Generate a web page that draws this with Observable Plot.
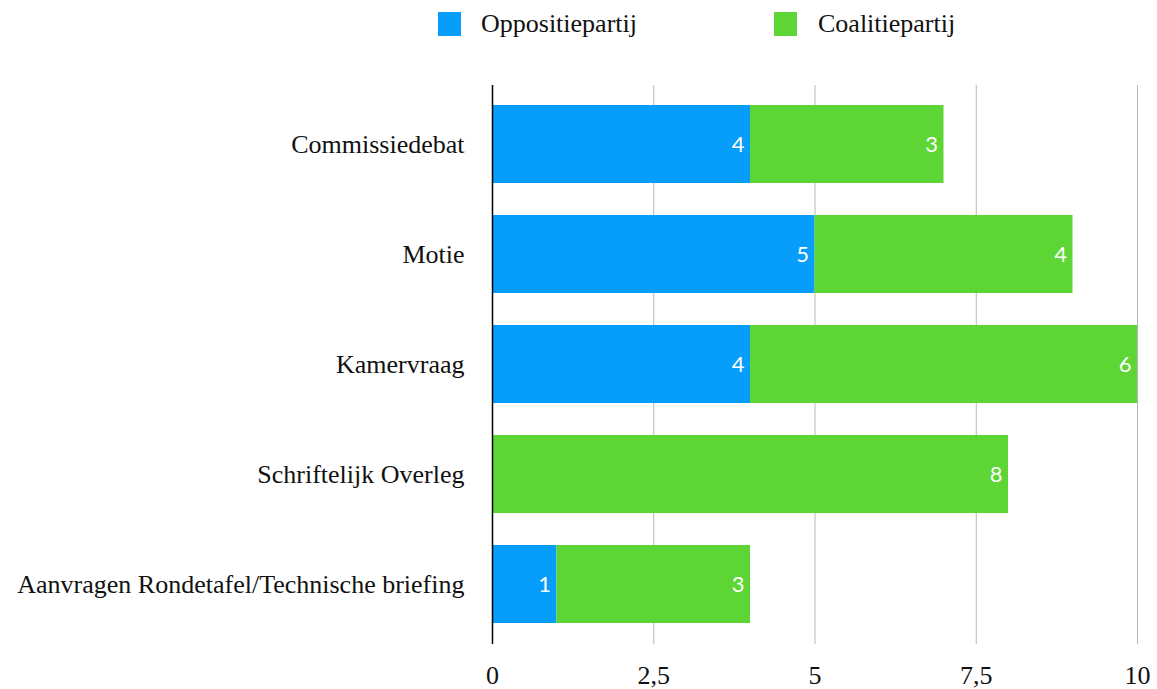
<!DOCTYPE html>
<html>
<head>
<meta charset="utf-8">
<script src="https://cdn.jsdelivr.net/npm/d3@7"></script>
<script src="https://cdn.jsdelivr.net/npm/@observablehq/plot@0.6"></script>
<style>
  html, body { margin: 0; padding: 0; background: #fff; overflow: hidden; }
  #legend { position: relative; width: 1157px; height: 50px; font-family: "Liberation Serif", "Times New Roman", serif; font-size: 26px; color: #111; }
  .sw { position: absolute; top: 12px; width: 23px; height: 24px; }
  .lt { position: absolute; top: 11px; line-height: 26px; white-space: nowrap; }
  #chart svg { display: block; }
</style>
</head>
<body>
<div id="legend"></div>
<div id="chart"></div>
<script>
const categories = [
  "Commissiedebat",
  "Motie",
  "Kamervraag",
  "Schriftelijk Overleg",
  "Aanvragen Rondetafel/Technische briefing"
];
const parties = ["Oppositiepartij", "Coalitiepartij"];
const colors = ["#069dfb", "#5dd535"];
const oppositie = [4, 5, 4, 0, 1];
const coalitie = [3, 4, 6, 8, 3];
const xTicks = [0, 2.5, 5, 7.5, 10];

const data = [];
categories.forEach((c, i) => {
  data.push({cat: c, party: parties[0], value: oppositie[i]});
  data.push({cat: c, party: parties[1], value: coalitie[i]});
});

// Legend
const legend = document.getElementById("legend");
const legendPos = [[438, 481], [774, 818]];
parties.forEach((p, i) => {
  const sw = document.createElement("div");
  sw.className = "sw";
  sw.style.left = legendPos[i][0] + "px";
  sw.style.background = colors[i];
  legend.appendChild(sw);
  const t = document.createElement("div");
  t.className = "lt";
  t.style.left = legendPos[i][1] + "px";
  t.textContent = p;
  legend.appendChild(t);
});

const fmt = d => String(d).replace(".", ",");

const plot = Plot.plot({
  width: 1157,
  height: 639,
  marginLeft: 492,
  marginRight: 20,
  marginTop: 35,
  marginBottom: 45,
  style: {fontFamily: "'Liberation Serif', 'Times New Roman', serif", fontSize: "26px", color: "#111", background: "#fff", overflow: "visible"},
  x: {domain: [0, 10]},
  y: {domain: categories, paddingInner: 0.29, paddingOuter: 0.17},
  color: {domain: parties, range: colors},
  marks: [
    Plot.gridX(xTicks.slice(1), {stroke: "#b8b8b8", strokeOpacity: 1, strokeWidth: 1}),
    Plot.barX(data, Plot.stackX({x: "value", y: "cat", z: "party", fill: "party", order: parties})),
    Plot.text(data, Plot.stackX2({
      x: "value", y: "cat", z: "party", order: parties,
      text: d => String(d.value),
      filter: d => d.value > 0,
      fill: "white", textAnchor: "end", dx: -6,
      fontFamily: "Lato, 'Open Sans', sans-serif", fontSize: 22
    })),
    Plot.ruleX([0], {stroke: "#000", strokeWidth: 1.5}),
    Plot.axisX({ticks: xTicks, tickFormat: fmt, tickSize: 0, tickPadding: 21, label: null, fontSize: 26}),
    Plot.axisY({tickSize: 0, tickPadding: 28, label: null, fontSize: 26})
  ]
});
document.getElementById("chart").appendChild(plot);
</script>
</body>
</html>
